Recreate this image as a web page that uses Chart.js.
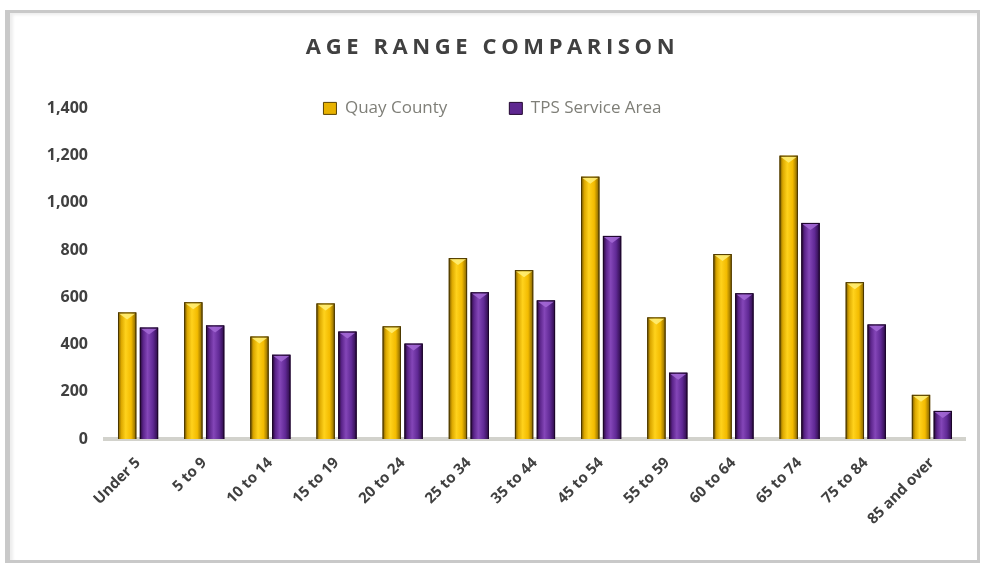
<!DOCTYPE html>
<html>
<head>
<meta charset="utf-8">
<script src="https://cdn.jsdelivr.net/npm/chart.js@4.4.0/dist/chart.umd.min.js"></script>
<style>
  html, body { margin: 0; padding: 0; background: #ffffff; }
  #wrap { position: relative; width: 981px; height: 566px; overflow: hidden; }
  #frame {
    position: absolute; left: 5px; top: 10px; width: 967px; height: 547px;
    border: 3px solid #c9c9c9; border-left-width: 5px;
    box-shadow: inset 3px 2px 3px rgba(0, 0, 0, 0.07);
  }
  #c { position: absolute; left: 0; top: 0; }
</style>
</head>
<body>
<div id="wrap">
  <div id="frame"></div>
  <canvas id="c" width="981" height="566"></canvas>
</div>
<script>
// Chart text
const chartTitle = 'AGE RANGE COMPARISON';
const seriesNames = ['Quay County', 'TPS Service Area'];

// Age groups on the x axis
const ageGroups = ['Under 5', '5 to 9', '10 to 14', '15 to 19', '20 to 24', '25 to 34',
  '35 to 44', '45 to 54', '55 to 59', '60 to 64', '65 to 74', '75 to 84', '85 and over'];

// Population per age group
const quayCounty     = [536, 579, 434, 574, 477, 766, 715, 1111, 515, 783, 1200, 664, 187];
const tpsServiceArea = [472, 481, 357, 455, 404, 621, 587,  860, 281, 617,  915, 485, 119];

// Value axis
const yMin = 0;
const yMax = 1400;
const yStep = 200;

// Cylinder shading: dark edge, mid, highlight, mid, dark edge, cap highlight, outline
const shades = {
  gold:   ['#6f5300', '#dca800', '#ffd21c', '#f3bb00', '#7d5e00', '#fff07a', '#4a3700'],
  purple: ['#22072f', '#5b248a', '#8446b8', '#602995', '#2a0a44', '#a56ad6', '#1c0629']
};

// Paints each bar as a shaded cylinder using the bar element's own geometry
const cylinderPlugin = {
  id: 'cylinder',
  afterDatasetDraw(chart, args) {
    const ds = chart.data.datasets[args.index];
    const s = shades[ds.shade];
    if (!s) return;
    const ctx = chart.ctx;
    const area = chart.chartArea;
    ctx.save();
    ctx.beginPath();
    ctx.rect(area.left, area.top - 2, area.right - area.left, area.bottom - area.top + 2);
    ctx.clip();
    args.meta.data.forEach((el) => {
      const { x, y, base, width } = el.getProps(['x', 'y', 'base', 'width'], true);
      const l = x - width / 2;
      const r = x + width / 2;
      const h = base - y;
      const g = ctx.createLinearGradient(l, 0, r, 0);
      g.addColorStop(0, s[0]);
      g.addColorStop(0.18, s[1]);
      g.addColorStop(0.42, s[2]);
      g.addColorStop(0.72, s[3]);
      g.addColorStop(1, s[4]);
      ctx.fillStyle = g;
      ctx.fillRect(l, y, width, h);
      // bevelled top
      const capH = Math.min(7, h / 2);
      ctx.beginPath();
      ctx.moveTo(l + 1, y + 1);
      ctx.lineTo(r - 1, y + 1);
      ctx.lineTo(x, y + capH);
      ctx.closePath();
      ctx.fillStyle = s[5];
      ctx.globalAlpha = 0.85;
      ctx.fill();
      ctx.globalAlpha = 1;
      ctx.strokeStyle = s[6];
      ctx.lineWidth = 1;
      ctx.strokeRect(l + 0.5, y + 0.5, width - 1, h);
    });
    ctx.restore();
  }
};

// Draws the chart title with wide letter spacing
const spacedTitlePlugin = {
  id: 'spacedTitle',
  afterInit(chart) {
    const block = chart.titleBlock;
    if (!block) return;
    const draw = block.draw.bind(block);
    block.draw = function (area) {
      const ctx = chart.ctx;
      ctx.save();
      ctx.letterSpacing = '4.6px';
      draw(area);
      ctx.restore();
    };
  }
};

// Places the legend row level with the top of the plot area
const legendRowPlugin = {
  id: 'legendRow',
  afterLayout(chart) {
    const legend = chart.legend;
    if (!legend) return;
    const lo = legend.options.labels;
    const fontSize = lo.font.size;
    const itemHeight = Math.max(fontSize, lo.boxHeight || fontSize);
    const rowCenter = chart.chartArea.top;
    legend.top = rowCenter - itemHeight / 2 - lo.padding;
    legend.bottom = rowCenter + itemHeight / 2 + 6;
    legend.height = legend.bottom - legend.top;
  }
};

const tickColor = '#404040';

new Chart(document.getElementById('c'), {
  type: 'bar',
  data: {
    labels: ageGroups,
    datasets: [
      {
        label: seriesNames[0],
        data: quayCounty,
        shade: 'gold',
        backgroundColor: '#e8b200',
        borderColor: '#5a4300',
        borderWidth: 1,
        categoryPercentage: 0.66,
        barPercentage: 0.84
      },
      {
        label: seriesNames[1],
        data: tpsServiceArea,
        shade: 'purple',
        backgroundColor: '#5e2790',
        borderColor: '#22072f',
        borderWidth: 1,
        categoryPercentage: 0.66,
        barPercentage: 0.84
      }
    ]
  },
  plugins: [spacedTitlePlugin, legendRowPlugin, cylinderPlugin],
  options: {
    responsive: false,
    animation: false,
    devicePixelRatio: 1,
    locale: 'en-US',
    layout: { padding: { top: 35, left: 20, right: 16, bottom: 0 } },
    plugins: {
      tooltip: { enabled: false },
      title: {
        display: true,
        text: chartTitle,
        color: tickColor,
        font: { family: 'Open Sans', size: 22, weight: 'bold', lineHeight: 1.2 },
        padding: { top: 0, bottom: 27 }
      },
      legend: {
        display: true,
        position: 'top',
        maxHeight: 20,
        labels: {
          color: '#7f7f78',
          font: { family: 'Open Sans', size: 17 },
          boxWidth: 13,
          boxHeight: 12,
          padding: 62
        }
      }
    },
    scales: {
      x: {
        grid: { display: false, drawTicks: false },
        border: { display: true, color: '#d2d2cc', width: 4 },
        ticks: {
          color: tickColor,
          font: { family: 'Open Sans', size: 15, weight: 'bold' },
          maxRotation: 45,
          minRotation: 45,
          autoSkip: false,
          padding: 15
        },
        afterFit(scale) { scale.height = 127; }
      },
      y: {
        min: yMin,
        max: yMax,
        grid: { display: false, drawTicks: false },
        border: { display: false },
        ticks: {
          stepSize: yStep,
          color: tickColor,
          font: { family: 'Open Sans', size: 16, weight: 'bold' },
          padding: 17
        },
        afterFit(scale) { scale.width = 85; }
      }
    }
  }
});
</script>
</body>
</html>
